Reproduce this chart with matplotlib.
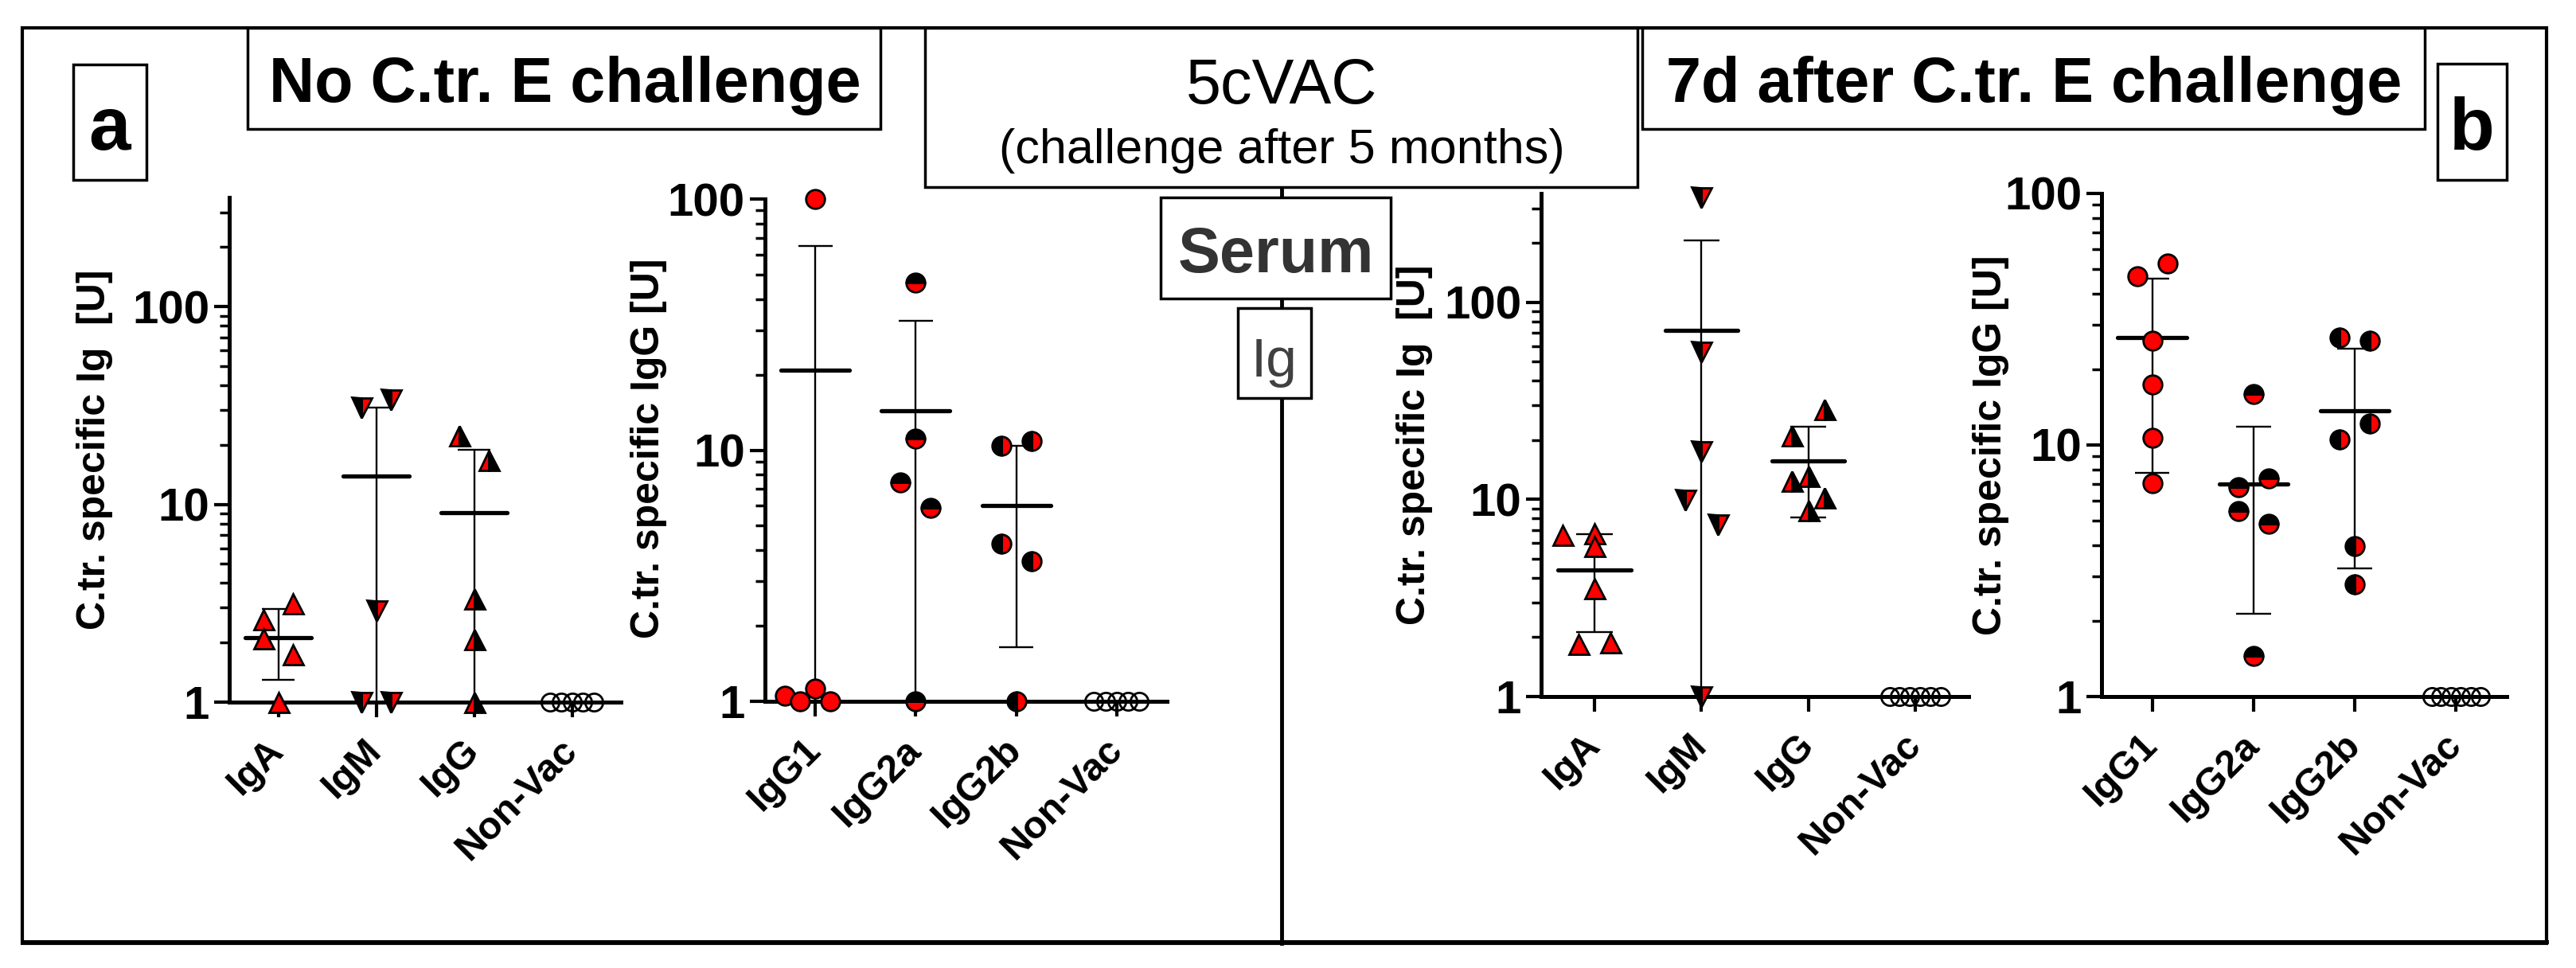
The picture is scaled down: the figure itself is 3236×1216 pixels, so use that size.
import numpy as np
import matplotlib
matplotlib.use('Agg')
import matplotlib.pyplot as plt
from matplotlib.patches import Rectangle
from matplotlib.lines import Line2D
from matplotlib.ticker import FixedLocator, FuncFormatter, NullFormatter

plt.rcParams['font.family'] = ['Liberation Sans', 'DejaVu Sans']
plt.rcParams['font.weight'] = 'bold'

# ---- data (C.tr. specific antibody units) ----
ig_groups = ['IgA', 'IgM', 'IgG', 'Non-Vac']
igg_groups = ['IgG1', 'IgG2a', 'IgG2b', 'Non-Vac']

# a: no C.tr. E challenge
noch_iga = [3.16, 2.63, 2.10, 1.75, 1.0]
noch_igm = [30.8, 33.8, 2.9, 1.0, 1.0]
noch_igg = [22.4, 16.8, 3.34, 2.08, 1.0]
noch_nonvac_ig = [1.0, 1.0, 1.0, 1.0, 1.0]

noch_igg1 = [1.05, 1.0, 1.12, 1.0, 100.0]
noch_igg2a = [46.4, 11.1, 7.43, 5.89, 1.0]
noch_igg2b = [10.4, 10.9, 4.25, 3.61, 1.0]
noch_nonvac_igg = [1.0, 1.0, 1.0, 1.0, 1.0]

# b: 7d after C.tr. E challenge
ch_iga = [6.6, 6.7, 5.8, 3.54, 1.84, 1.88]
ch_igm = [342.0, 55.9, 17.6, 9.9, 7.43, 1.0]
ch_igg = [28.7, 21.1, 13.2, 12.4, 10.2, 8.82]
ch_nonvac_ig = [1.0, 1.0, 1.0, 1.0, 1.0, 1.0]

ch_igg1 = [46.9, 52.7, 25.9, 17.4, 10.7, 7.07]
ch_igg2a = [15.96, 6.82, 7.38, 5.48, 4.86, 1.45]
ch_igg2b = [26.8, 26.0, 12.2, 10.5, 3.96, 2.79]
ch_nonvac_igg = [1.0, 1.0, 1.0, 1.0, 1.0, 1.0]

# ---- layout helpers (pixel coords of the 3236x1216 canvas) ----
W, H = 3236, 1216
fig = plt.figure(figsize=(W / 100, H / 100), dpi=100)


def fx(px):
    return px / W


def fy(py):
    return 1 - py / H


RED = '#ff0000'
sty_iga = dict(marker='^', ms=18, mfc=RED, mec='k', mew=2)
sty_igm = dict(marker='v', ms=18, mfc=RED, mfcalt='k', fillstyle='right', mec='k', mew=2)
sty_igg = dict(marker='^', ms=18, mfc=RED, mfcalt='k', fillstyle='left', mec='k', mew=2)
sty_igg1 = dict(marker='o', ms=17, mfc=RED, mec='k', mew=2)
sty_igg2a = dict(marker='o', ms=17, mfc=RED, mfcalt='k', fillstyle='bottom', mec='k', mew=2)
sty_igg2b = dict(marker='o', ms=17, mfc=RED, mfcalt='k', fillstyle='right', mec='k', mew=2)
sty_nonvac = dict(marker='o', ms=16, mfc='none', mec='k', mew=2)

STEP = 0.15
spread5 = [-1.5, -0.75, 0, 0.75, 1.5]
spread6 = [-1.6, -1.0, -0.35, 0.3, 0.95, 1.6]


def panel(px_rect, groups, values, styles, sides, ytop, ylabel, lab_xy):
    x0, x1, ybot, ytp = px_rect
    ax = fig.add_axes([fx(x0), fy(ybot), fx(x1) - fx(x0), fy(ytp) - fy(ybot)])
    ax.set_facecolor('none')
    ax.set_yscale('log')
    ax.set_xlim(-0.5, 3.5)
    ax.set_ylim(1, ytop)
    for i, (vals, st, sd) in enumerate(zip(values, styles, sides)):
        vals = np.asarray(vals, float)
        xs = i + np.asarray(sd) * STEP
        ax.plot(xs, vals, linestyle='none', clip_on=False, zorder=6, **st)
        if groups[i] == 'Non-Vac':
            continue
        # mean with SD, as in the original GraphPad scatter
        m = vals.mean()
        s = vals.std(ddof=1)
        lo, hi = m - s, m + s
        ax.vlines(i, max(lo, 1), hi, color='k', lw=1.7, zorder=4, clip_on=False)
        ax.hlines(hi, i - 0.17, i + 0.17, color='k', lw=1.7, zorder=4)
        if lo > 1:
            ax.hlines(lo, i - 0.17, i + 0.17, color='k', lw=1.7, zorder=4)
        ax.add_line(Line2D([i - 0.34, i + 0.34], [m, m], color='k', lw=3.8,
                           solid_capstyle='round', zorder=5))

    for side in ['top', 'right']:
        ax.spines[side].set_visible(False)
    for side in ['left', 'bottom']:
        ax.spines[side].set_linewidth(3.6)

    ax.set_xticks(range(4))
    ax.set_xticklabels(groups, rotation=45, ha='right', va='center',
                       rotation_mode='anchor', fontsize=35, fontweight='bold')
    ax.tick_params(axis='x', length=14, width=3, pad=25)

    ax.yaxis.set_major_locator(FixedLocator([1, 10, 100]))
    ax.yaxis.set_major_formatter(FuncFormatter(lambda v, _: '%g' % v))
    minors = [v * d for d in (1, 10, 100) for v in range(2, 10) if v * d < ytop]
    ax.yaxis.set_minor_locator(FixedLocator(minors))
    ax.yaxis.set_minor_formatter(NullFormatter())
    ax.tick_params(axis='y', which='major', length=14, width=3, labelsize=42, pad=4)
    ax.tick_params(axis='y', which='minor', length=9, width=2.5)

    fig.text(fx(lab_xy[0]), fy(lab_xy[1]), ylabel, rotation=90, ha='center',
             va='center', fontsize=36, fontweight='bold')
    return ax


panel((288, 780, 882, 248), ig_groups,
      [noch_iga, noch_igm, noch_igg, noch_nonvac_ig],
      [sty_iga, sty_igm, sty_igg, sty_nonvac],
      [[1, -1, -1, 1, 0], [-1, 1, 0, -1, 1], [-1, 1, 0, 0, 0], spread5],
      357, 'C.tr. specific Ig  [U]', (119, 565))

panel((961, 1466, 881, 250), igg_groups,
      [noch_igg1, noch_igg2a, noch_igg2b, noch_nonvac_igg],
      [sty_igg1, sty_igg2a, sty_igg2b, sty_nonvac],
      [[-2, -1, 0, 1, 0], [0, 0, -1, 1, 0], [-1, 1, -1, 1, 0], spread5],
      100, 'C.tr. specific IgG [U]', (815, 563))

panel((1936, 2473, 875, 243), ig_groups,
      [ch_iga, ch_igm, ch_igg, ch_nonvac_ig],
      [sty_iga, sty_igm, sty_igg, sty_nonvac],
      [[-2, 0, 0, 0, -1, 1], [0, 0, 0, -1, 1, 0], [1, -1, 0, -1, 1, 0], spread6],
      357, 'C.tr. specific Ig  [U]', (1777, 559))

panel((2640, 3149, 875, 243), igg_groups,
      [ch_igg1, ch_igg2a, ch_igg2b, ch_nonvac_igg],
      [sty_igg1, sty_igg2a, sty_igg2b, sty_nonvac],
      [[-1, 1, 0, 0, 0, 0], [0, -1, 1, -1, 1, 0], [-1, 1, 1, -1, 0, 0], spread6],
      100, 'C.tr. specific IgG [U]', (2501, 559))


# ---- frame, header boxes and the serum/Ig flow ----
def box(x0, y0, x1, y1, lw=2.5):
    fig.patches.append(Rectangle((fx(x0), fy(y1)), fx(x1) - fx(x0), fy(y0) - fy(y1),
                                 transform=fig.transFigure, fc='white', ec='k',
                                 lw=lw, zorder=3))


fig.patches.append(Rectangle((fx(28), fy(1185)), fx(3199) - fx(28), fy(35) - fy(1185),
                             transform=fig.transFigure, fill=False, ec='k', lw=3, zorder=2))
fig.lines.append(Line2D([fx(28), fx(3199)], [fy(1183), fy(1183)],
                        transform=fig.transFigure, color='k', lw=3.5, zorder=2))
fig.lines.append(Line2D([fx(1610), fx(1610)], [fy(235), fy(1185)],
                        transform=fig.transFigure, color='k', lw=3.5, zorder=2))

box(92, 81, 184, 226)
box(311, 35, 1106, 162)
box(1162, 35, 2057, 235)
box(2063, 35, 3046, 162)
box(3062, 80, 3149, 226)
box(1458, 248, 1747, 375)
box(1555, 387, 1647, 500)

fig.text(fx(138), fy(188), 'a', ha='center', va='baseline', fontsize=68, zorder=4)
fig.text(fx(3105), fy(188), 'b', ha='center', va='baseline', fontsize=67, zorder=4)
fig.text(fx(710), fy(128), 'No C.tr. E challenge', ha='center', va='baseline',
         fontsize=57, zorder=4)
fig.text(fx(2555), fy(128), '7d after C.tr. E challenge', ha='center', va='baseline',
         fontsize=57, zorder=4)
fig.text(fx(1610), fy(130), '5cVAC', ha='center', va='baseline', fontsize=57,
         fontweight='normal', zorder=4)
fig.text(fx(1610), fy(205), '(challenge after 5 months)', ha='center', va='baseline',
         fontsize=44, fontweight='normal', zorder=4)
fig.text(fx(1603), fy(342), 'Serum', ha='center', va='baseline', fontsize=57,
         color='#333333', zorder=4)
fig.text(fx(1601), fy(473), 'Ig', ha='center', va='baseline', fontsize=50,
         fontweight='normal', color='#404040', zorder=4)

fig.savefig('out.png', dpi=100)
